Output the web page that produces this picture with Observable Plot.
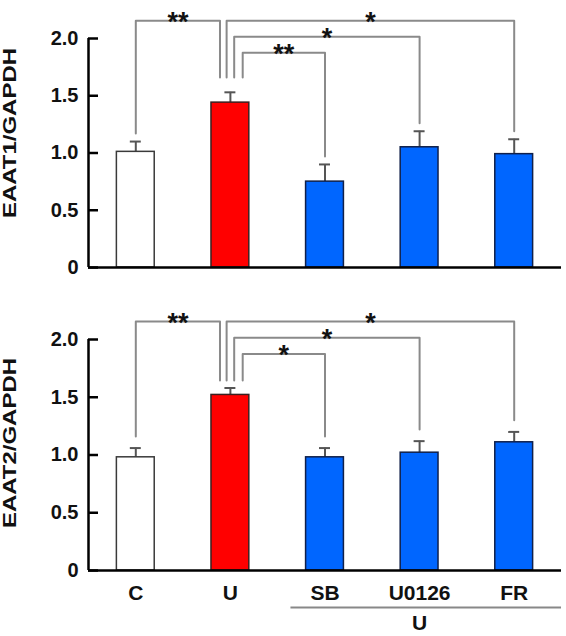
<!DOCTYPE html>
<html><head><meta charset="utf-8">
<script src="https://cdn.jsdelivr.net/npm/d3@7"></script>
<script src="https://cdn.jsdelivr.net/npm/@observablehq/plot@0.6"></script>
<style>
body{margin:0;background:#fff;}
#chart svg{display:block;}
</style></head><body><div id="chart"></div>
<script>
const categories = ["C", "U", "SB", "U0126", "FR"];
const eaat1 = [1.01, 1.44, 0.75, 1.05, 0.99];
const eaat1Err = [0.09, 0.09, 0.15, 0.14, 0.13];
const eaat2 = [0.98, 1.52, 0.98, 1.02, 1.11];
const eaat2Err = [0.08, 0.06, 0.08, 0.10, 0.09];
const comparisons = [["C", "U"], ["U", "FR"], ["U", "U0126"], ["U", "SB"]];
const stars1 = ["**", "*", "*", "**"];
const stars2 = ["**", "*", "*", "*"];
const yTicks = [0, 0.5, 1, 1.5, 2];
const yTickLabels = ["0", "0.5", "1.0", "1.5", "2.0"];
const groupLabel = "U";
const groupMembers = ["SB", "U0126", "FR"];

const FONT = "'Liberation Sans', Arial, sans-serif";
const x0 = -0.5, x1 = categories.length - 0.5;
const idx = c => categories.indexOf(c);
const fillOf = c => c === "C" ? "#ffffff" : c === "U" ? "#ff0000" : "#0066ff";
const strokeOf = c => c === "C" ? "#3a3a3a" : c === "U" ? "#3a2020" : "#10204a";

function panel({values, errs, stars, ylabel, height, marginTop, marginBottom, uLegEnd, legGap, showX, labelDy}) {
  const rows = categories.map((c, i) => ({c, i, v: values[i], e: errs[i]}));
  const uOff = [-0.11, -0.04, 0.04, 0.13];
  const levels = [2.155, 2.155, 2.015, 1.875];
  const brackets = comparisons.map(([a, b], k) => {
    const ia = idx(a), ib = idx(b);
    const xa = ia + (a === "U" ? uOff[k] : 0);
    const xb = ib + (b === "U" ? uOff[k] : 0);
    const ya = a === "U" ? uLegEnd : values[ia] + errs[ia] + legGap;
    const yb = b === "U" ? uLegEnd : values[ib] + errs[ib] + legGap;
    return {k, pts: [{x: xa, y: ya}, {x: xa, y: levels[k]}, {x: xb, y: levels[k]}, {x: xb, y: yb}],
            mid: (xa + xb) / 2, level: levels[k], star: stars[k]};
  });
  const bracketPts = brackets.flatMap(b => b.pts.map(p => ({...p, k: b.k})));
  const marks = [
    Plot.line(bracketPts, {x: "x", y: "y", z: "k", stroke: "#8a8a8a", strokeWidth: 2}),
    Plot.text(brackets, {x: "mid", y: "level", text: "star", fontSize: 27, fontWeight: "bold", lineAnchor: "bottom", dy: 10, fill: "#111"}),
    Plot.ruleX(rows, {x: "i", y1: "v", y2: d => d.v + d.e, stroke: "#555", strokeWidth: 2}),
    Plot.ruleY(rows, {x1: d => d.i - 0.058, x2: d => d.i + 0.058, y: d => d.v + d.e, stroke: "#555", strokeWidth: 2}),
    Plot.rectY(rows, {x1: d => d.i - 0.2, x2: d => d.i + 0.2, y1: 0, y2: "v", fill: d => fillOf(d.c), stroke: d => strokeOf(d.c), strokeWidth: 1.5}),
    Plot.ruleY([0], {x1: x0, x2: x1, stroke: "#000", strokeWidth: 2.5}),
    Plot.ruleX([x0], {y1: yTicks[0], y2: yTicks[yTicks.length - 1], stroke: "#000", strokeWidth: 2.5}),
    Plot.axisY({ticks: yTicks, tickFormat: d => yTickLabels[yTicks.indexOf(d)], tickSize: -10, tickPadding: 20,
      fontSize: 20, fontWeight: "bold", strokeWidth: 2.5, stroke: "#000", fill: "#111"}),
    Plot.text([ylabel], {frameAnchor: "left", textAnchor: "middle", dx: -78, dy: labelDy, rotate: -90, fontSize: 18, fontWeight: "bold", fill: "#111", className: "ylab"})
  ];
  if (showX) {
    const g0 = idx(groupMembers[0]), g1 = idx(groupMembers[groupMembers.length - 1]);
    marks.push(
      Plot.axisX({ticks: categories.map((c, i) => i), tickFormat: i => categories[i], tickSize: 0, tickPadding: 15,
        fontSize: 21, fontWeight: "bold", fill: "#111"}),
      Plot.ruleY([0], {x1: g0 - 0.36, x2: g1 + 0.5, dy: 37, stroke: "#888", strokeWidth: 2}),
      Plot.text([groupLabel], {x: (g0 + g1) / 2, y: 0, dy: 53, fontSize: 21, fontWeight: "bold", fill: "#111"})
    );
  }
  const svg = Plot.plot({
    width: 566, height, marginLeft: 88, marginRight: 5, marginTop, marginBottom,
    style: {fontFamily: FONT, background: "#fff", overflow: "visible"},
    x: {domain: [x0, x1], axis: null},
    y: {domain: [0, 2], axis: null},
    marks
  });
  d3.select(svg).selectAll(".ylab text").attr("textLength", 170).attr("lengthAdjust", "spacingAndGlyphs");
  return svg;
}

const chart = document.getElementById("chart");
chart.appendChild(panel({values: eaat1, errs: eaat1Err, stars: stars1, ylabel: "EAAT1/GAPDH", height: 300,
  marginTop: 38, marginBottom: 33, uLegEnd: 1.66, legGap: 0.07, showX: false, labelDy: -20}));
chart.appendChild(panel({values: eaat2, errs: eaat2Err, stars: stars2, ylabel: "EAAT2/GAPDH", height: 336,
  marginTop: 39, marginBottom: 66, uLegEnd: 1.645, legGap: 0.1, showX: true, labelDy: -12}));
</script></body></html>
